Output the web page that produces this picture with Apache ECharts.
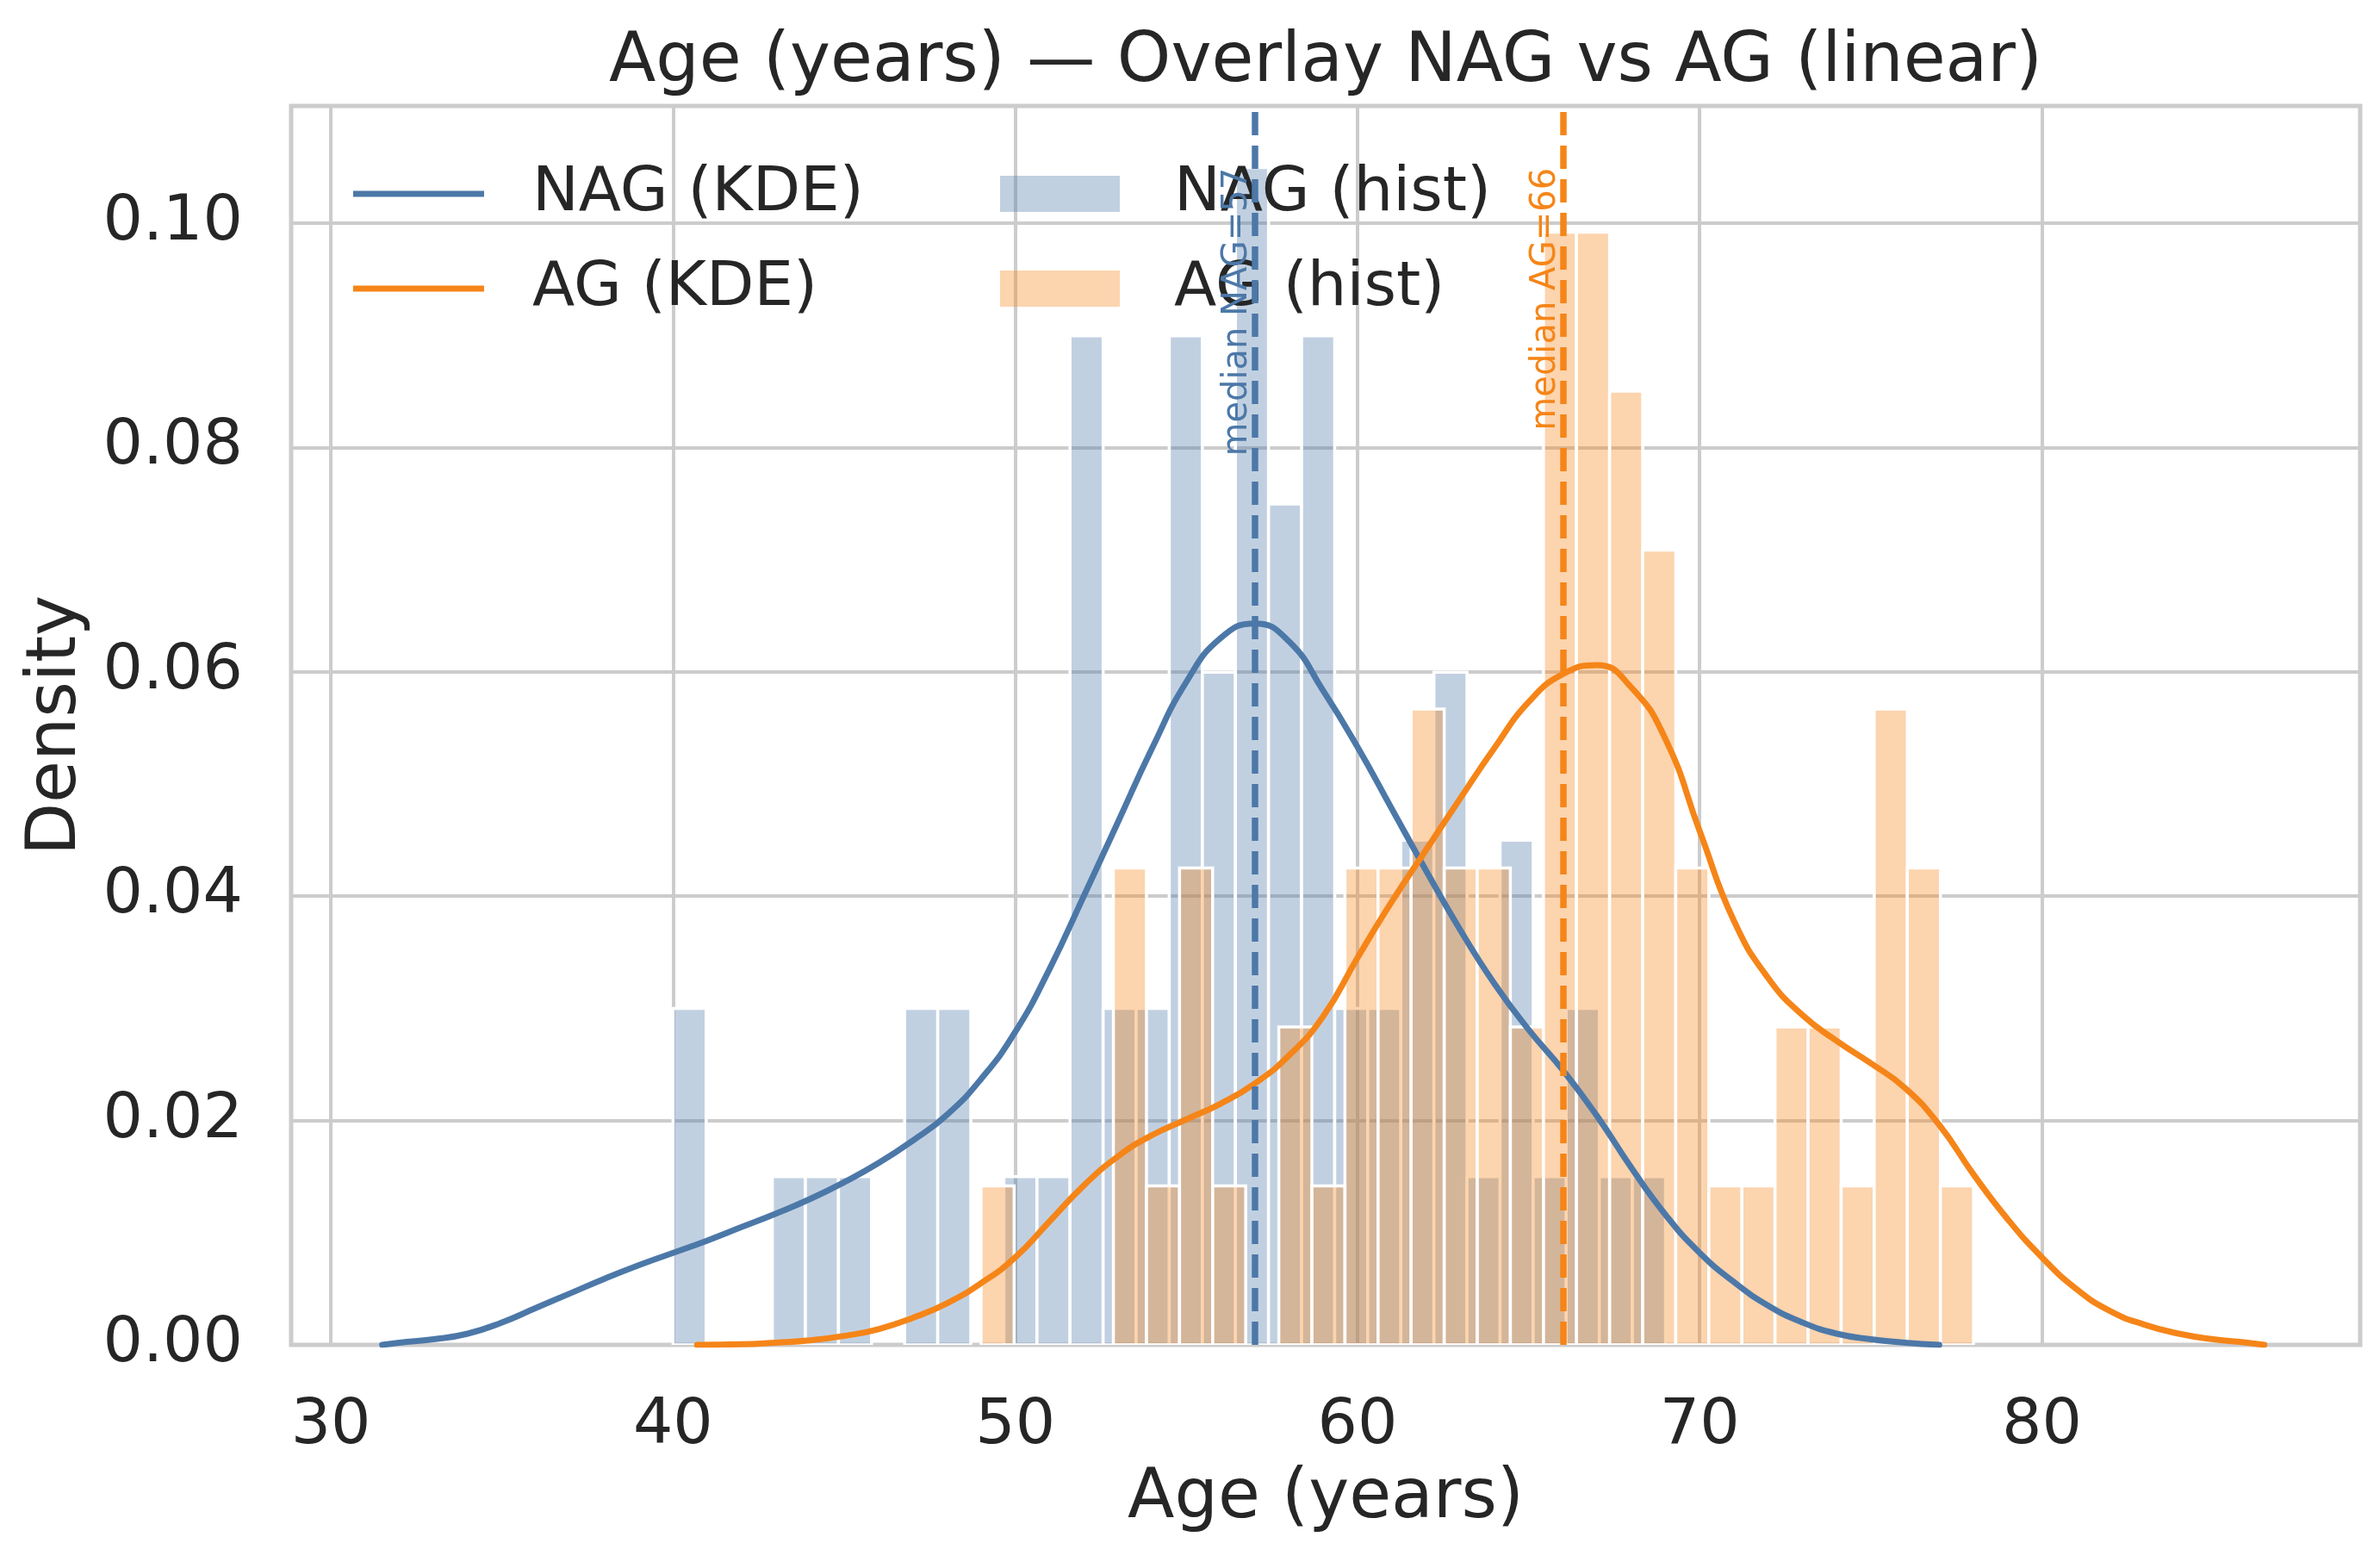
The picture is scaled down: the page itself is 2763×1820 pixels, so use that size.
<!DOCTYPE html>
<html>
<head>
<meta charset="utf-8">
<script src="https://cdn.jsdelivr.net/npm/echarts@6/dist/echarts.min.js"></script>
<style>
html,body{margin:0;padding:0;background:#ffffff;}
#chart{width:2763px;height:1820px;}
</style>
</head>
<body>
<div id="chart"></div>
<script>
// ---------------- data ----------------
const titleText = 'Age (years) \u2014 Overlay NAG vs AG (linear)';
const groupNames = ['NAG', 'AG'];
const nagBinRange = [40, 69];
const agBinRange = [49, 78];
// counts per bin (30 equal bins over each range)
const nagCounts = [2,0,0,1,1,1,0,2,2,0,1,1,6,2,2,6,4,7,5,6,2,2,3,4,1,3,1,2,1,1];
const agCounts  = [1,0,0,0,3,1,3,1,0,2,1,3,3,4,3,3,2,7,7,6,5,3,1,1,2,2,1,4,3,1];
// KDE curves [age, density]
const nagKde = [[31.5,0],[32,0.0002],[33,0.0005],[34,0.001],[35,0.002],[36,0.0033],[37,0.0046],[38,0.0059],[39,0.0071],[40,0.0082],[41,0.0093],[42,0.0105],[43,0.0117],[44,0.013],[45,0.0145],[46,0.0162],[47,0.0182],[48,0.0205],[49,0.0237],[50,0.0279],[51,0.0335],[52,0.04],[53,0.0466],[54,0.0532],[55,0.0591],[56,0.063],[57,0.0643],[58,0.0627],[59,0.0583],[60,0.0533],[61,0.0478],[62,0.0423],[63,0.037],[64,0.0322],[65,0.0281],[66,0.0245],[67,0.0204],[68,0.0158],[69,0.0116],[70,0.0082],[71,0.0056],[72,0.0035],[73,0.002],[74,0.001],[75,0.0005],[76,0.0002],[77,0]];
const agKde = [[40.7,0],[42,0.00005],[43,0.0002],[44,0.0004],[45,0.0008],[46,0.0014],[47,0.0024],[48,0.0037],[49,0.0055],[50,0.0078],[51,0.011],[52,0.0142],[53,0.0168],[54,0.0187],[55,0.0201],[56,0.0215],[57,0.0233],[58,0.0258],[59,0.0293],[60,0.0345],[61,0.0395],[62,0.0441],[63,0.0487],[64,0.0532],[65,0.0573],[66,0.0598],[67,0.0606],[68,0.0586],[69,0.054],[70,0.0458],[71,0.0378],[72,0.0327],[73,0.0294],[74,0.0271],[75,0.0251],[76,0.0229],[77,0.0196],[78,0.0152],[79,0.0112],[80,0.0078],[81,0.005],[82,0.003],[83,0.0018],[84,0.001],[85,0.0005],[86,0.0002],[86.5,0]];
const medianValues = [57, 66];
const xTicks = [30, 40, 50, 60, 70, 80];
const yTicks = [0, 0.02, 0.04, 0.06, 0.08, 0.10];
const xRange = [28.84, 89.3];
const yRange = [0, 0.11044];

// ---------------- styling ----------------
const FONT = 'DejaVu Sans';
const TXT = '#262626';
const GRIDC = '#cccccc';
const BLUE = '#4C78A8';
const ORANGE = '#F58518';
const BLUE_H = 'rgba(76,120,168,0.35)';
const ORANGE_H = 'rgba(245,133,24,0.35)';
const GRID = { left: 338, top: 123, right: 23, bottom: 259 };
const W = 2763;
const TITLE_SIZE = 79.5;

function histData(range, counts) {
  const w = (range[1] - range[0]) / counts.length;
  const n = counts.reduce((a, b) => a + b, 0);
  const out = [];
  counts.forEach((c, i) => {
    if (c > 0) out.push([range[0] + i * w, range[0] + (i + 1) * w, c / (n * w)]);
  });
  return out;
}

function histSeries(name, range, counts, fill) {
  return {
    type: 'custom',
    name: name,
    z: 2,
    silent: true,
    clip: true,
    itemStyle: { color: fill },
    encode: { x: [0, 1], y: 2 },
    data: histData(range, counts),
    renderItem: function (params, api) {
      const p0 = api.coord([api.value(0), api.value(2)]);
      const p1 = api.coord([api.value(1), 0]);
      return {
        type: 'rect',
        shape: { x: p0[0], y: p0[1], width: p1[0] - p0[0], height: p1[1] - p0[1] },
        style: { fill: fill, stroke: '#ffffff', lineWidth: 3.5 }
      };
    }
  };
}

function kdeSeries(name, data, color, medianVal) {
  return {
    type: 'line',
    name: name,
    z: 3,
    data: data,
    smooth: 0.5,
    symbol: 'none',
    showSymbol: false,
    silent: true,
    itemStyle: { color: color },
    lineStyle: { color: color, width: 7, cap: 'round', join: 'round' },
    markLine: {
      silent: true,
      symbol: 'none',
      z: 4,
      label: { show: false },
      lineStyle: { color: color, width: 7.5, type: [27, 12] },
      data: [{ xAxis: medianVal }]
    }
  };
}

const medianLabelData = groupNames.map((g, i) => [medianValues[i], yRange[1] * 0.95, 'median ' + g + '=' + medianValues[i], i]);

// centre the title over the plot area
const mctx = document.createElement('canvas').getContext('2d');
mctx.font = TITLE_SIZE + 'px "DejaVu Sans"';
const titleW = mctx.measureText(titleText).width;
const plotCenter = GRID.left + (W - GRID.left - GRID.right) / 2;

const chart = echarts.init(document.getElementById('chart'), null, { renderer: 'canvas' });
chart.setOption({
  backgroundColor: '#ffffff',
  animation: false,
  textStyle: { fontFamily: FONT },
  title: {
    text: titleText,
    left: plotCenter - titleW / 2,
    top: 33,
    padding: 0,
    textStyle: { fontFamily: FONT, fontSize: TITLE_SIZE, fontWeight: 'normal', color: TXT, lineHeight: 80 }
  },
  grid: {
    left: GRID.left, top: GRID.top, right: GRID.right, bottom: GRID.bottom,
    show: true, borderColor: GRIDC, borderWidth: 5, backgroundColor: 'transparent',
    containLabel: false
  },
  legend: [
    {
      data: ['NAG (KDE)', 'AG (KDE)'],
      orient: 'vertical', left: 405, top: 180,
      itemWidth: 152, itemHeight: 7, itemGap: 30, icon: 'rect',
      selectedMode: false,
      textStyle: { fontFamily: FONT, fontSize: 72, color: TXT, lineHeight: 80, padding: [0, 0, 0, 51] }
    },
    {
      data: ['NAG (hist)', 'AG (hist)'],
      orient: 'vertical', left: 1156, top: 180,
      itemWidth: 139, itemHeight: 42, itemGap: 30, icon: 'rect',
      selectedMode: false,
      textStyle: { fontFamily: FONT, fontSize: 72, color: TXT, lineHeight: 80, padding: [0, 0, 0, 58] }
    }
  ],
  xAxis: {
    type: 'value', min: xRange[0], max: xRange[1],
    axisLine: { show: false },
    axisTick: { show: false, customValues: xTicks },
    axisLabel: { customValues: xTicks, fontFamily: FONT, fontSize: 73, color: TXT, margin: 59, lineHeight: 73 },
    splitLine: { show: true, lineStyle: { color: GRIDC, width: 4 } },
    name: 'Age (years)', nameLocation: 'middle', nameGap: 139,
    nameTextStyle: { fontFamily: FONT, fontSize: 79.5, color: TXT, lineHeight: 80 }
  },
  yAxis: {
    type: 'value', min: yRange[0], max: yRange[1], interval: 0.02,
    axisLine: { show: false },
    axisTick: { show: false, customValues: yTicks },
    axisLabel: { customValues: yTicks, formatter: v => Number(v).toFixed(2), fontFamily: FONT, fontSize: 73, color: TXT, margin: 56 },
    splitLine: { show: true, lineStyle: { color: GRIDC, width: 4 } },
    name: 'Density', nameLocation: 'middle', nameGap: 232,
    nameTextStyle: { fontFamily: FONT, fontSize: 79.5, color: TXT, lineHeight: 80 }
  },
  series: [
    histSeries('NAG (hist)', nagBinRange, nagCounts, BLUE_H),
    histSeries('AG (hist)', agBinRange, agCounts, ORANGE_H),
    kdeSeries('NAG (KDE)', nagKde, BLUE, medianValues[0]),
    kdeSeries('AG (KDE)', agKde, ORANGE, medianValues[1]),
    {
      type: 'custom',
      name: 'median labels',
      z: 5,
      silent: true,
      clip: false,
      encode: { x: 0, y: 1 },
      data: medianLabelData,
      renderItem: function (params, api) {
        const p = api.coord([api.value(0), api.value(1)]);
        const idx = api.value(3);
        return {
          type: 'text',
          x: p[0], y: p[1],
          rotation: Math.PI / 2,
          style: {
            text: medianLabelData[params.dataIndex][2],
            fill: idx === 0 ? BLUE : ORANGE,
            font: '40px "DejaVu Sans"',
            align: 'right',
            verticalAlign: 'bottom'
          }
        };
      }
    }
  ]
});
</script>
</body>
</html>
